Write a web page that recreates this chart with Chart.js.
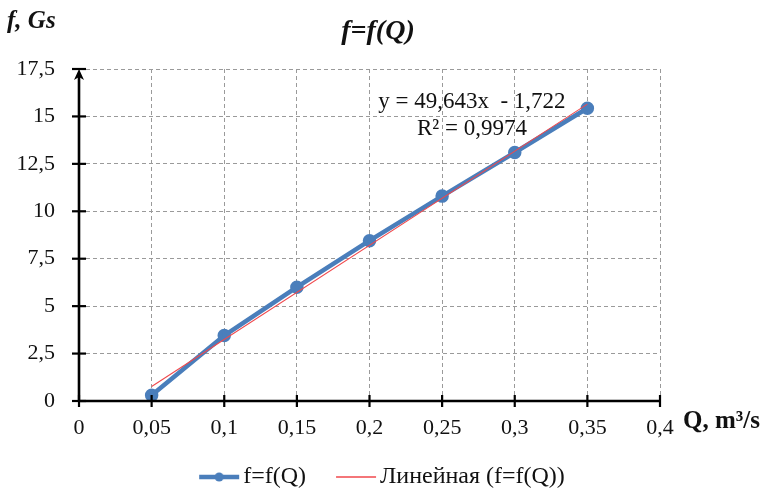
<!DOCTYPE html>
<html><head><meta charset="utf-8">
<script src="https://cdn.jsdelivr.net/npm/chart.js@4.4.1/dist/chart.umd.min.js"></script>
<style>html,body{margin:0;padding:0;background:#fff}canvas{display:block}</style>
</head><body>
<canvas id="c" width="764" height="489"></canvas>
<script>
const qValues = [0.05, 0.1, 0.15, 0.2, 0.25, 0.3, 0.35];
const fValues = [0.3, 3.45, 6.0, 8.45, 10.8, 13.1, 15.43];
const trendQ = [0.05, 0.35];
const trendF = [0.76, 15.65];
const xTickLabels = ['0','0,05','0,1','0,15','0,2','0,25','0,3','0,35','0,4'];
const yTickLabels = ['0','2,5','5','7,5','10','12,5','15','17,5'];
const seriesNames = ['f=f(Q)', 'Линейная (f=f(Q))'];
const titleText = 'f=f(Q)';
const yAxisTitle = 'f, Gs';
const xAxisTitle = 'Q, m³/s';
const eqLines = ['y = 49,643x  - 1,722', 'R² = 0,9974'];

const SERIF = '"Liberation Serif", "DejaVu Serif", serif';
const BLUE = '#4a7ebb';
const RED = '#f0484c';

function icon(color, width, dot) {
  const c = document.createElement('canvas');
  c.width = 64; c.height = 12;
  const g = c.getContext('2d');
  g.strokeStyle = color; g.lineWidth = width;
  g.beginPath(); g.moveTo(16, 6); g.lineTo(56, 6); g.stroke();
  if (dot) { g.fillStyle = color; g.beginPath(); g.arc(36, 6, 4.5, 0, Math.PI*2); g.fill(); }
  return c;
}
const icons = [icon(BLUE, 4.5, true), icon(RED, 1.3, false)];

const axesPlugin = {
  id: 'axesPlugin',
  afterLayout(chart) {
    if (chart.legend) { chart.legend.top += 10; chart.legend.bottom += 10; }
    const xs = chart.scales.x;
    if (xs) { xs.bottom = xs.top + 48; xs.height = 48; }
  },
  afterDatasetsDraw(chart) {
    const {ctx, scales: {x, y}} = chart;
    ctx.save();
    ctx.strokeStyle = '#000'; ctx.fillStyle = '#000';
    ctx.lineWidth = 2.6;
    const x0 = x.getPixelForValue(0), y0 = y.getPixelForValue(0);
    ctx.beginPath(); ctx.moveTo(x0, y0); ctx.lineTo(x.getPixelForValue(0.4) + 1, y0); ctx.stroke();
    ctx.beginPath(); ctx.moveTo(x0, y0); ctx.lineTo(x0, y.getPixelForValue(17.5) + 8); ctx.stroke();
    const ty = y.getPixelForValue(17.5);
    ctx.beginPath(); ctx.moveTo(x0, ty); ctx.lineTo(x0 - 5, ty + 11); ctx.lineTo(x0, ty + 8); ctx.lineTo(x0 + 5, ty + 11); ctx.closePath(); ctx.fill();
    ctx.lineWidth = 2.2;
    y.ticks.forEach(t => { const p = y.getPixelForValue(t.value); ctx.beginPath(); ctx.moveTo(x0 - 7, p); ctx.lineTo(x0 + 7, p); ctx.stroke(); });
    x.ticks.forEach(t => { const p = x.getPixelForValue(t.value); ctx.beginPath(); ctx.moveTo(p, y0 - 6); ctx.lineTo(p, y0 + 6); ctx.stroke(); });
    ctx.fillStyle = '#111';
    ctx.textBaseline = 'middle';
    ctx.textAlign = 'center';
    ctx.font = 'italic bold 28px ' + SERIF;
    ctx.fillText(titleText, 378, 32);
    ctx.textAlign = 'left';
    ctx.font = 'italic bold 25px ' + SERIF;
    ctx.fillText(yAxisTitle, 7, 22);
    ctx.font = 'bold 25px ' + SERIF;
    ctx.fillText(xAxisTitle, 683, 422);
    ctx.font = '23px ' + SERIF;
    ctx.textAlign = 'center';
    ctx.fillText(eqLines[0], x.getPixelForValue(0.2705), y.getPixelForValue(15.75));
    ctx.fillText(eqLines[1], x.getPixelForValue(0.2705), y.getPixelForValue(14.35));
    ctx.restore();
  }
};

new Chart(document.getElementById('c'), {
  type: 'scatter',
  data: {
    datasets: [
      {
        label: seriesNames[0],
        data: qValues.map((q, i) => ({x: q, y: fValues[i]})),
        showLine: true, borderColor: BLUE, backgroundColor: BLUE,
        borderWidth: 4.5, pointRadius: 4.5, pointHoverRadius: 4.5,
        pointStyle: 'circle', order: 2
      },
      {
        label: seriesNames[1],
        data: trendQ.map((q, i) => ({x: q, y: trendF[i]})),
        showLine: true, borderColor: RED, backgroundColor: RED,
        borderWidth: 1.1, pointRadius: 0, order: 1
      }
    ]
  },
  options: {
    responsive: false, animation: false,
    layout: {padding: {top: 69, left: 0, right: 0, bottom: 0}},
    plugins: {
      tooltip: {enabled: false},
      title: {display: false},
      legend: {
        position: 'bottom',
        labels: {
          color: '#111', font: {family: SERIF, size: 24},
          usePointStyle: true, pointStyleWidth: 32, boxHeight: 12, padding: 30,
          generateLabels: (chart) => chart.data.datasets.map((d, i) => ({
            text: d.label, pointStyle: icons[i], datasetIndex: i, hidden: false,
            fontColor: '#111', lineWidth: 0, strokeStyle: 'transparent', fillStyle: 'transparent'
          }))
        }
      }
    },
    scales: {
      x: {
        type: 'linear', min: 0, max: 0.4,
        afterBuildTicks: s => { s.ticks = xTickLabels.map((_, i) => ({value: i * 0.05})); },
        ticks: {callback: (v, i) => xTickLabels[i], color: '#111', font: {family: SERIF, size: 22}, padding: 14, maxRotation: 0, autoSkip: false},
        grid: {color: '#9a9a9a', lineWidth: 1, drawTicks: false},
        border: {display: false, dash: [4, 3]},
        afterFit: s => { s.height = 24; }
      },
      y: {
        type: 'linear', min: 0, max: 17.5,
        afterBuildTicks: s => { s.ticks = yTickLabels.map((_, i) => ({value: i * 2.5})); },
        ticks: {callback: (v, i) => yTickLabels[i], color: '#111', font: {family: SERIF, size: 22}, padding: 24, autoSkip: false},
        grid: {color: '#9a9a9a', lineWidth: 1, drawTicks: false},
        border: {display: false, dash: [4, 3]},
        afterFit: s => { s.width = 79; }
      },
      yRight: {
        type: 'linear', position: 'right', min: 0, max: 17.5,
        ticks: {display: false}, grid: {display: false}, border: {display: false},
        afterFit: s => { s.width = 104; }
      }
    }
  },
  plugins: [axesPlugin]
});
</script>
</body></html>
